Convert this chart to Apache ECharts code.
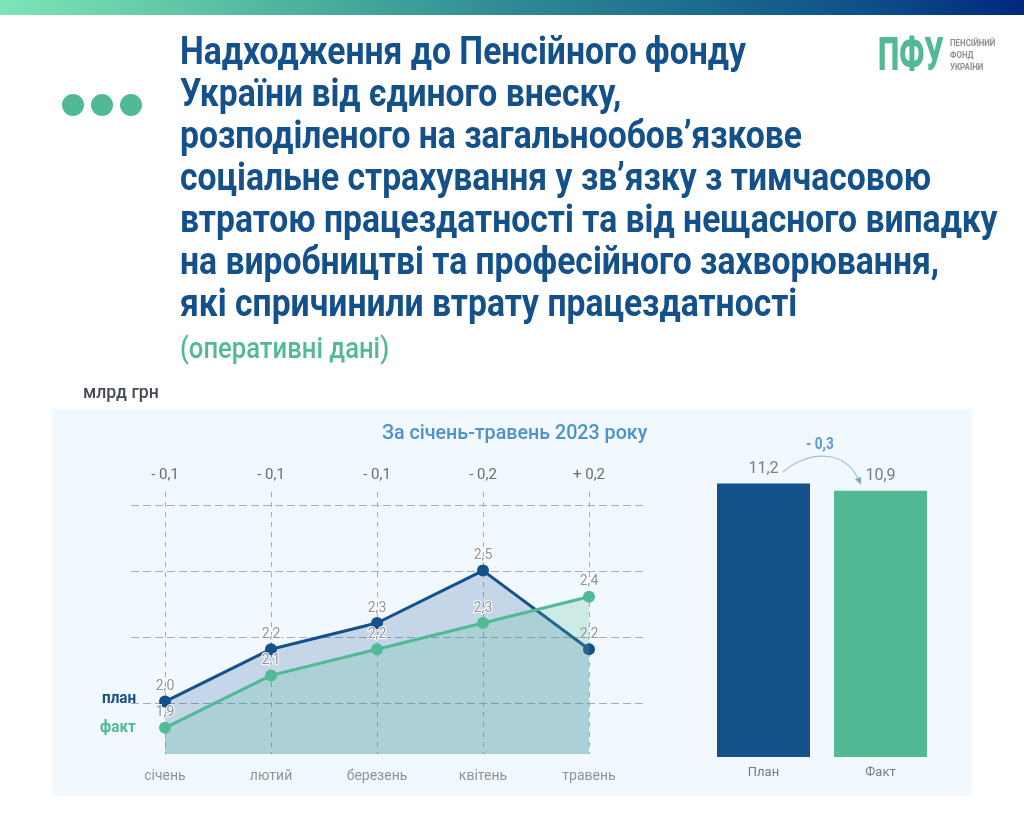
<!DOCTYPE html>
<html>
<head>
<meta charset="utf-8">
<style>
html, body { margin: 0; padding: 0; background: #fff; }
#chart { width: 1024px; height: 819px; }
</style>
<script src="https://cdn.jsdelivr.net/npm/echarts@6/dist/echarts.min.js"></script>
</head>
<body>
<div id="chart"></div>
<script>
var months = ['січень', 'лютий', 'березень', 'квітень', 'травень'];
var diffs = ['- 0,1', '- 0,1', '- 0,1', '- 0,2', '+ 0,2'];
var planValues = [2.0, 2.2, 2.3, 2.5, 2.2];
var factValues = [1.9, 2.1, 2.2, 2.3, 2.4];
var totalNames = ['План', 'Факт'];
var totalValues = [11.2, 10.9];
var titleLines = [
    'Надходження до Пенсійного фонду',
    'України від єдиного внеску,',
    'розподіленого на загальнообов’язкове',
    'соціальне страхування у зв’язку з тимчасовою',
    'втратою працездатності та від нещасного випадку',
    'на виробництві та професійного захворювання,',
    'які спричинили втрату працездатності'
];
var logoLines = ['ПЕНСІЙНИЙ', 'ФОНД', 'УКРАЇНИ'];

var navy = '#14508a';
var green = '#52b995';

function comma(v) {
    return v.toFixed(1).replace('.', ',');
}

// no condensed font installed, so squeeze Roboto sideways
function squeezed(str, x, y, size, weight, color, sx) {
    return {
        type: 'text', x: x, y: y, scaleX: sx, z: 10,
        style: {
            text: str, fill: color, verticalAlign: 'middle',
            fontFamily: 'Roboto', fontWeight: weight, fontSize: size
        }
    };
}

function pointLabel() {
    return {
        show: true,
        position: 'top',
        distance: 2,
        color: '#8f9499',
        fontFamily: 'Roboto',
        fontSize: 14,
        textBorderColor: '#fff',
        textBorderWidth: 2,
        formatter: function (p) { return comma(p.value); }
    };
}

var graphics = [
    { type: 'rect', z: -10, shape: { x: 0, y: 0, width: 1024, height: 15 },
      style: { fill: new echarts.graphic.LinearGradient(0, 0, 1, 0, [
          { offset: 0, color: '#7fe5b6' },
          { offset: 0.25, color: '#55b8a0' },
          { offset: 0.5, color: '#2f8a94' },
          { offset: 0.85, color: '#0c4f8a' },
          { offset: 1, color: '#00287c' }
      ]) } },
    { type: 'rect', z: -10, shape: { x: 52, y: 409, width: 920, height: 387 }, style: { fill: '#f1f8fe' } },
    { type: 'circle', shape: { cx: 73, cy: 105, r: 11 }, style: { fill: green } },
    { type: 'circle', shape: { cx: 102, cy: 105, r: 11 }, style: { fill: green } },
    { type: 'circle', shape: { cx: 131, cy: 105, r: 11 }, style: { fill: green } },
    squeezed('ПФУ', 878, 58, 47, 900, green, 0.64),
    squeezed('(оперативні дані)', 180, 351, 29, 500, green, 0.884),
    squeezed('млрд грн', 83, 393, 18, 500, '#444b52', 0.98),
    squeezed('За січень-травень 2023 року', 382, 434, 21, 500, '#4e92c8', 0.937),
    squeezed('план', 102, 699, 17, 700, navy, 0.9),
    squeezed('факт', 100, 728, 17, 700, green, 0.9),
    squeezed('- 0,3', 806, 445, 17, 700, '#5b9bd0', 0.8),
    { type: 'bezierCurve', z: 5,
      shape: { x1: 783, y1: 472, cpx1: 805, cpy1: 452, cpx2: 845, cpy2: 447, x2: 859, y2: 481 },
      style: { stroke: '#9dbfd8', lineWidth: 1.2, fill: 'none' } },
    { type: 'polygon', z: 5, shape: { points: [[861, 485], [855, 479], [861, 477]] }, style: { fill: '#7fa9c9' } }
];
titleLines.forEach(function (line, i) {
    graphics.push(squeezed(line, 180, 54 + i * 42, 38, 700, navy, 0.886));
});
logoLines.forEach(function (line, i) {
    graphics.push(squeezed(line, 950, 44 + i * 12, 9, 700, '#8b9096', 0.88));
});

var chart = echarts.init(document.getElementById('chart'));
chart.setOption({
    animation: false,
    backgroundColor: '#fff',
    graphic: graphics,
    grid: [
        // horizontal dashed guides run wider than the data
        { left: 131, width: 512, top: 505, height: 198 },
        { left: 165, width: 424, top: 492, height: 262 },
        { left: 705, width: 234, top: 464, height: 293 }
    ],
    xAxis: [
        { gridIndex: 0, type: 'value', min: 0, max: 1, show: false },
        {
            gridIndex: 1, type: 'category', data: months, boundaryGap: false,
            axisLine: { show: false }, axisTick: { show: false },
            axisLabel: { color: '#8f9499', fontFamily: 'Roboto', fontSize: 14, margin: 15, interval: 0 },
            splitLine: { show: true, interval: 0, lineStyle: { type: [5, 5], color: '#a3adb8', width: 1 } }
        },
        {
            gridIndex: 1, type: 'category', position: 'top', data: diffs, boundaryGap: false,
            axisLine: { show: false }, axisTick: { show: false },
            axisLabel: { color: '#666c73', fontFamily: 'Roboto', fontSize: 15, margin: 9, interval: 0 },
            splitLine: { show: false }
        },
        {
            gridIndex: 2, type: 'category', data: totalNames,
            axisLine: { show: false }, axisTick: { show: false },
            axisLabel: { color: '#777d84', fontFamily: 'Roboto', fontSize: 13, margin: 9 }
        }
    ],
    yAxis: [
        {
            gridIndex: 0, type: 'value', min: 2, max: 2.75, interval: 0.25,
            axisLine: { show: false }, axisTick: { show: false }, axisLabel: { show: false },
            splitLine: { show: true, lineStyle: { type: [8, 4], color: '#a3adb8', width: 1 } }
        },
        { gridIndex: 1, type: 'value', min: 1.8, max: 2.8, show: false, splitLine: { show: false } },
        { gridIndex: 2, type: 'value', min: 0, max: 12, show: false, splitLine: { show: false } }
    ],
    series: [
        {
            name: 'план', type: 'line', xAxisIndex: 1, yAxisIndex: 1, data: planValues,
            symbol: 'circle', symbolSize: 12, z: 3,
            lineStyle: { color: navy, width: 3 },
            itemStyle: { color: navy },
            areaStyle: { color: navy, opacity: 0.2 },
            label: pointLabel()
        },
        {
            name: 'факт', type: 'line', xAxisIndex: 1, yAxisIndex: 1, data: factValues,
            symbol: 'circle', symbolSize: 12, z: 4,
            lineStyle: { color: green, width: 3 },
            itemStyle: { color: green },
            areaStyle: { color: green, opacity: 0.22 },
            label: pointLabel()
        },
        {
            type: 'bar', xAxisIndex: 3, yAxisIndex: 2, barWidth: 93,
            data: totalValues.map(function (v, i) {
                return { value: v, itemStyle: { color: i === 0 ? navy : green } };
            }),
            label: {
                show: true, position: 'top', distance: 7,
                color: '#777d84', fontFamily: 'Roboto', fontSize: 16,
                formatter: function (p) { return comma(p.value); }
            }
        }
    ]
});
</script>
</body>
</html>
